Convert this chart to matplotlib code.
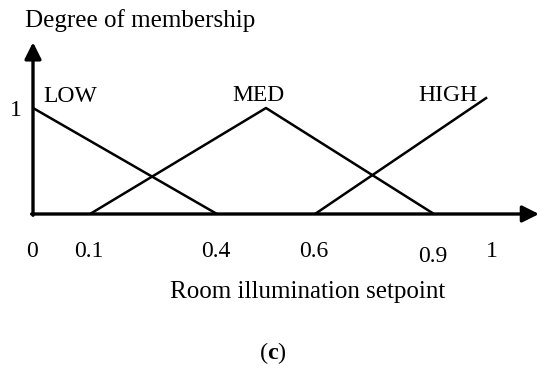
import numpy as np
import matplotlib
matplotlib.use("Agg")
import matplotlib.pyplot as plt

# ---- data ----
categories = ["LOW", "MED", "HIGH"]
low_x = [0.0, 0.4]
low_y = [1.0, 0.0]
med_x = [0.1, 0.5, 0.9]
med_y = [0.0, 1.0, 0.0]
high_x = [0.6, 0.99]
high_y = [0.0, 1.1]
tick_values = [0.0, 0.1, 0.4, 0.6, 0.9, 1.0]
tick_labels = ["0", "0.1", "0.4", "0.6", "0.9", "1"]
x_title = "Room illumination setpoint"
y_title = "Degree of membership"
panel = "(c)"

# ---- layout (schematic, non-uniform x scale as in the drawing) ----
W, H = 550, 374
tick_px = [33, 90, 217, 315, 434, 493]          # pixel position of each tick value
SLOPE = 460.0
knots_v = np.array([-1.0] + tick_values + [2.0])
knots_p = np.array([tick_px[0] - SLOPE] + tick_px + [tick_px[-1] + SLOPE])
Y0, YS = 214.0, 106.0                            # baseline pixel (from top), px per unit

def fwd(v):
    return np.interp(np.asarray(v, dtype=float), knots_v, knots_p)

def inv(p):
    return np.interp(np.asarray(p, dtype=float), knots_p, knots_v)

plt.rcParams["font.family"] = ["Liberation Serif", "DejaVu Serif"]
plt.rcParams["mathtext.fontset"] = "custom"
plt.rcParams["mathtext.rm"] = "Liberation Serif"
plt.rcParams["mathtext.bf"] = "Liberation Serif:bold"

fig = plt.figure(figsize=(W / 100, H / 100), dpi=100)
ax = fig.add_axes([0, 0, 1, 1])
ax.set_xscale("function", functions=(fwd, inv))
ax.set_xlim(float(inv(0)), float(inv(W)))
ax.set_ylim(-(H - Y0) / YS, Y0 / YS)
ax.set_axis_off()

# axes with arrows
arrow = dict(arrowstyle="-|>,head_length=10,head_width=5.0", mutation_scale=1,
             lw=2.4, color="black", shrinkA=0, shrinkB=0)
ax.annotate("", xy=(0, 1.62), xytext=(0, -0.012), arrowprops=arrow)
ax.annotate("", xy=(1.1, 0), xytext=(-0.003, 0), arrowprops=arrow)

# membership functions
for xs, ys in [(low_x, low_y), (med_x, med_y), (high_x, high_y)]:
    ax.plot(xs, ys, color="black", lw=1.8, solid_capstyle="butt")

def ftext(x, y, s, **kw):
    fig.text(x / W, 1 - y / H, s, **kw)

# category labels
ftext(43, 102, categories[0], fontsize=17, ha="left", va="baseline")
ftext(232, 101, categories[1], fontsize=17, ha="left", va="baseline")
ftext(418, 101, categories[2], fontsize=17, ha="left", va="baseline")

# y tick "1"
ftext(16, 116, "1", fontsize=17, ha="center", va="baseline")

# x tick labels
for v, lab in zip(tick_values, tick_labels):
    base = 262 if lab == "0.9" else 257
    ftext(float(fwd(v)) - 1, base, lab, fontsize=17, ha="center", va="baseline")

# titles
ftext(25, 27, y_title, fontsize=18, ha="left", va="baseline")
ftext(308, 298, x_title, fontsize=18, ha="center", va="baseline")
ftext(273, 359, r"(" + r"$\mathbf{c}$" + ")", fontsize=17.5, ha="center", va="baseline")

fig.savefig("out.png", dpi=100)
